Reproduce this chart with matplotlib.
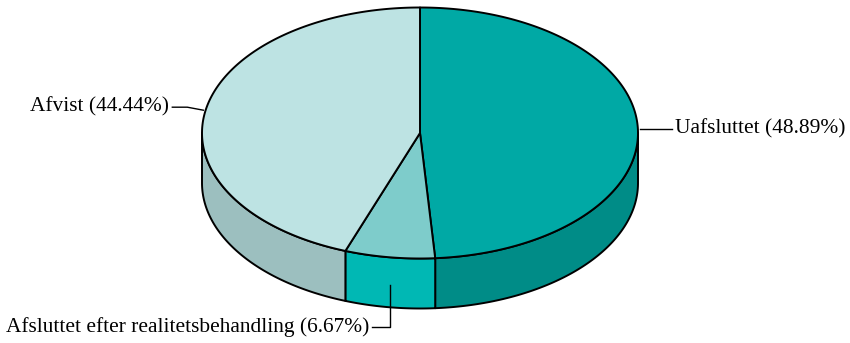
import numpy as np
import matplotlib
matplotlib.use("Agg")
import matplotlib.pyplot as plt
from matplotlib.patches import Polygon

labels = ["Uafsluttet", "Afsluttet efter realitetsbehandling", "Afvist"]
values = [48.89, 6.67, 44.44]
top_colors = ["#00A9A5", "#7ECCCB", "#BDE3E3"]
side_colors = ["#008C87", "#00B8B4", "#9CBFBF"]

W, H = 850, 343
fig = plt.figure(figsize=(W / 100, H / 100), dpi=100)
ax = fig.add_axes([0, 0, 1, 1])
ax.set_xlim(0, W)
ax.set_ylim(H, 0)
ax.axis("off")

cx, cy, rx, ry, depth = 420, 133, 218, 125.5, 50
lw = 1.4

def pt(theta_deg, dz=0):
    t = np.radians(theta_deg)
    return cx + rx * np.cos(t), cy - ry * np.sin(t) + dz

total = sum(values)
starts, ends = [], []
a = 90.0
for v in values:
    starts.append(a)
    a -= v / total * 360.0
    ends.append(a)

# side walls (front half: -180..0)
for s, e, sc in zip(starts, ends, side_colors):
    lo, hi = max(e, -180), min(s, 0)
    if lo >= hi:
        continue
    th = np.linspace(hi, lo, 100)
    topx, topy = pt(th)
    botx, boty = pt(th[::-1], depth)
    xs = np.concatenate([topx, botx])
    ys = np.concatenate([topy, boty])
    ax.add_patch(Polygon(np.column_stack([xs, ys]), closed=True, facecolor=sc,
                         edgecolor="black", linewidth=lw, joinstyle="round", zorder=1))

# top wedges
for s, e, tc in zip(starts, ends, top_colors):
    th = np.linspace(s, e, 200)
    x, y = pt(th)
    xs = np.concatenate([[cx], x])
    ys = np.concatenate([[cy], y])
    ax.add_patch(Polygon(np.column_stack([xs, ys]), closed=True, facecolor=tc,
                         edgecolor="black", linewidth=lw, joinstyle="round", zorder=2))

font = dict(family=["Liberation Serif", "DejaVu Serif"], fontsize=15.4, color="black")
kw_line = dict(color="black", linewidth=1.0, zorder=3)

# Uafsluttet label
mid = (starts[0] + ends[0]) / 2
mx, my = pt(mid)
ax.plot([mx + 2, mx + 34], [my, my], **kw_line)
ax.text(mx + 37, my, f"{labels[0]} ({values[0]:.2f}%)", ha="left", va="center", **font)

# Afsluttet label
mid = (starts[1] + ends[1]) / 2
mx, my = pt(mid, depth / 2)
ax.plot([mx, mx, mx - 18], [my + 3, my + 45, my + 45], **kw_line)
ax.text(mx - 20, my + 45, f"{labels[1]} ({values[1]:.2f}%)", ha="right", va="center", **font)

# Afvist label
mid = (starts[2] + ends[2]) / 2
mx, my = pt(mid)
ax.plot([mx - 2, mx - 18, mx - 33], [my - 1, my - 4, my - 4], **kw_line)
ax.text(mx - 36, my - 4, f"{labels[2]} ({values[2]:.2f}%)", ha="right", va="center", **font)

fig.savefig("out.png", dpi=100, facecolor="white")
